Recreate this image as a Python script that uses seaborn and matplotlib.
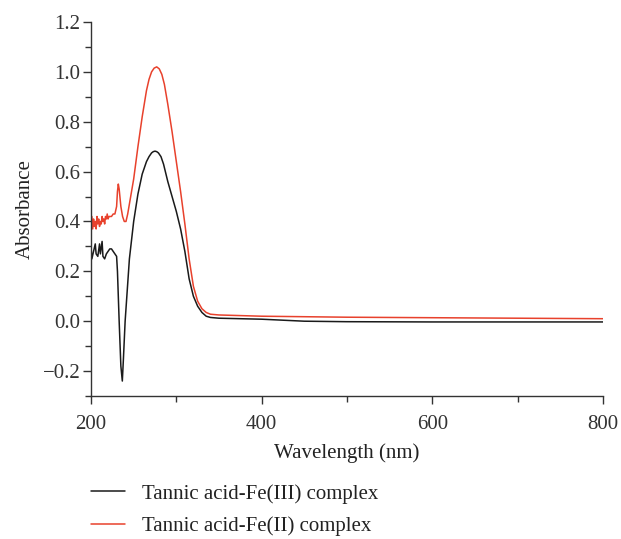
import pandas as pd
import matplotlib.pyplot as plt
import seaborn as sns
from matplotlib.ticker import MultipleLocator

# Absorbance spectra
wl_fe3 = [200, 201, 203, 205, 206, 208, 210, 211, 213, 214, 216, 218, 220, 222, 224,
          226, 228, 230, 231, 233, 235, 236.7, 238, 240, 242, 245, 250, 255, 260, 265,
          268, 271, 273, 275, 277, 279, 282, 285, 290, 295, 300, 305, 310, 315, 320,
          325, 330, 335, 340, 350, 400, 450, 500, 600, 700, 800]
abs_fe3 = [0.30, 0.25, 0.28, 0.31, 0.27, 0.26, 0.31, 0.27, 0.32, 0.26, 0.25, 0.27, 0.28, 0.29, 0.29,
           0.28, 0.27, 0.26, 0.20, 0.00, -0.18, -0.24, -0.15, 0.00, 0.10, 0.25, 0.40, 0.51, 0.59, 0.64,
           0.66, 0.675, 0.68, 0.682, 0.68, 0.675, 0.66, 0.63, 0.56, 0.50, 0.44, 0.37, 0.28, 0.17, 0.10,
           0.06, 0.035, 0.02, 0.015, 0.012, 0.008, 0.0, -0.002, -0.003, -0.003, -0.003]

wl_fe2 = [200, 201, 202, 203, 204, 205, 206, 207, 208, 209, 210, 211, 212, 213, 214, 215,
          216, 217, 218, 219, 220, 221, 222, 224, 226, 228, 230, 231, 232, 233, 235, 237,
          239, 241, 243, 246, 250, 255, 260, 265, 268, 271, 274, 277, 280, 283, 286, 290,
          295, 300, 305, 310, 315, 320, 325, 330, 335, 340, 350, 400, 500, 600, 700, 800]
abs_fe2 = [0.38, 0.42, 0.37, 0.41, 0.38, 0.40, 0.37, 0.42, 0.39, 0.41, 0.38, 0.40, 0.39, 0.42, 0.40, 0.41,
           0.39, 0.42, 0.41, 0.43, 0.41, 0.42, 0.42, 0.42, 0.43, 0.43, 0.46, 0.52, 0.55, 0.53, 0.46, 0.42,
           0.40, 0.40, 0.43, 0.49, 0.57, 0.70, 0.82, 0.925, 0.97, 1.00, 1.015, 1.02, 1.012, 0.99, 0.95, 0.87,
           0.76, 0.64, 0.52, 0.39, 0.25, 0.14, 0.08, 0.05, 0.035, 0.028, 0.025, 0.02, 0.016, 0.014, 0.012, 0.01]

labels = ["Tannic acid-Fe(III) complex", "Tannic acid-Fe(II) complex"]
colors = ["#1a1a1a", "#e8412c"]

df = pd.concat([
    pd.DataFrame({"wl": wl_fe3, "A": abs_fe3, "sample": labels[0]}),
    pd.DataFrame({"wl": wl_fe2, "A": abs_fe2, "sample": labels[1]}),
])

sns.set_theme(style="ticks")
plt.rcParams['font.family'] = ['Liberation Serif', 'DejaVu Serif']
plt.rcParams['text.color'] = '#222222'
plt.rcParams['axes.labelcolor'] = '#222222'
plt.rcParams['xtick.color'] = '#333333'
plt.rcParams['ytick.color'] = '#333333'

fig = plt.figure(figsize=(6.21, 5.39), dpi=100)
ax = fig.add_axes([91 / 621, 1 - 396 / 539, 512 / 621, 374 / 539])

sns.lineplot(data=df, x="wl", y="A", hue="sample", hue_order=labels,
             palette=colors, estimator=None, linewidth=1.1, ax=ax)

ax.set_xlim(200, 800)
ax.set_ylim(-0.3, 1.2)
ax.xaxis.set_major_locator(MultipleLocator(200))
ax.xaxis.set_minor_locator(MultipleLocator(100))
ax.yaxis.set_major_locator(MultipleLocator(0.2))
ax.yaxis.set_minor_locator(MultipleLocator(0.1))
ax.yaxis.set_major_formatter(plt.FuncFormatter(lambda v, p: f"{v:.1f}".replace("-", "\u2212")))
ax.tick_params(which="major", length=6, width=1, labelsize=15, direction="out")
ax.tick_params(axis="y", which="major", pad=1.5)
ax.tick_params(axis="x", which="major", pad=8)
ax.tick_params(which="minor", length=4, width=1, direction="out")
sns.despine(ax=ax)
for s in ["left", "bottom"]:
    ax.spines[s].set_color("#333333")
    ax.spines[s].set_linewidth(1)

ax.set_xlabel("Wavelength (nm)", fontsize=15, labelpad=6)
ax.set_ylabel("Absorbance", fontsize=15, labelpad=6)

handles, lbls = ax.get_legend_handles_labels()
ax.get_legend().remove()
fig.legend(handles, lbls, loc="upper left", bbox_to_anchor=(91 / 621, 1 - 484 / 539),
           frameon=False, fontsize=15, borderpad=0, borderaxespad=0,
           handlelength=1.65, handletextpad=0.8, labelspacing=0.6)

plt.savefig("out.png", dpi=100)
